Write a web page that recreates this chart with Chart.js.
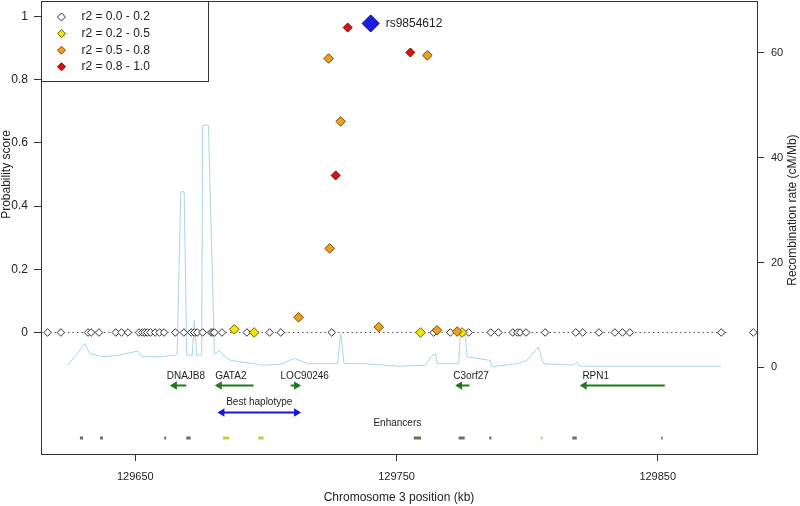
<!DOCTYPE html>
<html>
<head>
<meta charset="utf-8">
<script src="https://cdn.jsdelivr.net/npm/chart.js@4.4.0/dist/chart.umd.min.js"></script>
<style>
  html, body { margin: 0; padding: 0; background: #fff; }
</style>
</head>
<body>
<canvas id="chart" width="800" height="506"></canvas>
<script>
// ---- data (positions in kb on chromosome 3) ----
const xTicks = [129650, 129750, 129850];
const probTicks = [0, 0.2, 0.4, 0.6, 0.8, 1];
const rateTicks = [0, 20, 40, 60];

// r2 0.0 - 0.2
const lowPos = [129616.4, 129621.5, 129631.9, 129633.1, 129636.1, 129642.5, 129644.7, 129647.2,
  129651.4, 129652.7, 129653.6, 129654.6, 129655.8, 129657.6, 129659.3, 129661.0, 129665.3,
  129668.6, 129671.4, 129672.6, 129673.7, 129675.8, 129679.0, 129679.7, 129680.3, 129683.2,
  129692.7, 129701.4, 129705.7, 129725.2, 129764.2, 129770.6, 129777.6, 129786.1, 129789.0,
  129794.5, 129796.3, 129797.3, 129799.6, 129806.9, 129818.6, 129821.3, 129827.5, 129833.6,
  129836.5, 129839.3, 129874.3, 129886.6];
const lowScore = [0, 0, 0, 0, 0, 0, 0, 0, 0, 0, 0, 0,
  0, 0, 0, 0, 0, 0, 0, 0, 0, 0, 0, 0,
  0, 0, 0, 0, 0, 0, 0, 0, 0, 0, 0, 0,
  0, 0, 0, 0, 0, 0, 0, 0, 0, 0, 0, 0];
// r2 0.2 - 0.5
const midPos = [129687.9, 129695.5, 129759.2, 129775.1];
const midScore = [0.01, 0.0, 0.0, 0.0];
// r2 0.5 - 0.8
const highPos = [129712.5, 129724.0, 129724.4, 129728.6, 129743.2, 129761.8, 129765.5, 129773.2];
const highScore = [0.048, 0.867, 0.266, 0.668, 0.017, 0.877, 0.007, 0.003];
// r2 0.8 - 1.0
const topPos = [129726.7, 129731.3, 129755.3];
const topScore = [0.497, 0.965, 0.886];
// lead SNP
const leadName = 'rs9854612';
const leadPos = [129740.1];
const leadScore = [0.978];

// recombination rate (cM/Mb)
const recombPos = [129624.3, 129630.6, 129632.6, 129637.7, 129643.4, 129651.0, 129652.3, 129659.9,
  129665.0, 129666.0, 129667.4, 129668.7, 129669.7, 129671.8, 129672.6, 129673.5, 129675.4,
  129675.8, 129678.0, 129680.3, 129682.1, 129683.6, 129686.6, 129699.2, 129705.7, 129710.8,
  129715.9, 129727.4, 129728.6, 129729.9, 129737.4, 129751.5, 129761.1, 129763.6, 129765.0,
  129765.5, 129773.8, 129774.4, 129776.3, 129777.0, 129785.9, 129786.5, 129796.1, 129799.9,
  129804.3, 129806.2, 129817.7, 129819.0, 129820.2, 129874.3];
const recombRate = [0.4, 4.5, 2.6, 2.0, 2.3, 3.1, 2.1, 2.0,
  2.3, 2.5, 33.5, 33.5, 2.3, 2.3, 9.0, 2.3, 2.3,
  46.2, 46.2, 2.5, 3.2, 2.3, 1.3, 0.4, 0.6, 1.7,
  0.7, 0.7, 6.4, 0.7, 0.7, 0.2, 0.4, 2.3, 2.5,
  0.7, 0.7, 6.1, 6.1, 2.0, 1.3, 0.1, 0.7, 1.3,
  3.9, 0.7, 0.4, 1.0, 0.2, 0.2];

// genes
const geneNames = ['DNAJB8', 'GATA2', 'LOC90246', 'C3orf27', 'RPN1'];
const geneStart = [129664.0, 129681.2, 129709.5, 129773.2, 129820.9];
const geneEnd = [129669.5, 129695.3, 129712.7, 129777.9, 129852.7];
const geneStrand = ['-', '-', '+', '-', '-'];

// best haplotype
const haploStart = 129682.2;
const haploEnd = 129712.7;

// enhancers
const enhStart = [129628.8, 129636.5, 129661.1, 129669.5, 129683.5, 129697.1, 129756.6, 129773.8,
  129785.5, 129805.3, 129817.3, 129851.3];
const enhEnd = [129630.0, 129637.6, 129661.8, 129671.2, 129686.0, 129699.1, 129759.4, 129776.1,
  129786.3, 129805.9, 129819.0, 129851.9];
const enhKind = ['g', 'g', 'g', 'g', 'y', 'y', 'g', 'g', 'g', 'y', 'g', 'g'];

const legendLabels = ['r2 = 0.0 - 0.2', 'r2 = 0.2 - 0.5', 'r2 = 0.5 - 0.8', 'r2 = 0.8 - 1.0'];

// ---- styling ----
const FONT = '"Liberation Sans", Arial, sans-serif';
const TXT = '#222';
const AXIS = '#333';
const fills = ['#ffffff', '#f5e800', '#f0a020', '#e01010'];
const edges = ['#333333', '#6a6000', '#7a4a00', '#7a0000'];

const GENE_ROW = -0.165;
const HAPLO_ROW = -0.253;
const ENH_TEXT_ROW = -0.287;
const ENH_ROW = -0.334;

function pts(xs, ys) { return xs.map((v, i) => ({x: v, y: ys[i]})); }

function snpSet(label, xs, ys, k, r) {
  return {
    label: label, data: pts(xs, ys), yAxisID: 'y', showLine: false,
    pointStyle: 'rectRot', pointRadius: r, pointHoverRadius: r,
    backgroundColor: fills[k], borderColor: edges[k], pointBorderWidth: 1, order: 4 - k
  };
}

function drawArrow(ctx, x0, x1, y, head) {
  ctx.beginPath(); ctx.moveTo(x0, y); ctx.lineTo(x1, y); ctx.stroke();
  const d = Math.sign(x1 - x0);
  ctx.beginPath();
  ctx.moveTo(x1 - d * head, y - head * 0.6);
  ctx.lineTo(x1, y);
  ctx.lineTo(x1 - d * head, y + head * 0.6);
  ctx.closePath();
  ctx.fill(); ctx.stroke();
}

function diamond(ctx, x, y, r, fill, edge) {
  ctx.beginPath();
  ctx.moveTo(x, y - r); ctx.lineTo(x + r, y); ctx.lineTo(x, y + r); ctx.lineTo(x - r, y);
  ctx.closePath();
  ctx.fillStyle = fill; ctx.fill();
  ctx.strokeStyle = edge; ctx.lineWidth = 1; ctx.stroke();
}

const extras = {
  id: 'extras',
  afterDatasetsDraw(chart) {
    const {ctx, scales: {x, y, y1}} = chart;
    ctx.save();
    // enhancers
    const ey = Math.round(y.getPixelForValue(ENH_ROW));
    ctx.lineWidth = 3;
    enhStart.forEach((s, i) => {
      ctx.strokeStyle = enhKind[i] === 'y' ? '#c8cc3a' : '#6f6f58';
      ctx.beginPath();
      ctx.moveTo(x.getPixelForValue(s), ey);
      ctx.lineTo(Math.max(x.getPixelForValue(enhEnd[i]), x.getPixelForValue(s) + 1.5), ey);
      ctx.stroke();
    });
    ctx.fillStyle = TXT;
    ctx.font = '10px ' + FONT;
    ctx.textAlign = 'center';
    ctx.textBaseline = 'middle';
    ctx.fillText('Enhancers', x.getPixelForValue(129750.3), y.getPixelForValue(ENH_TEXT_ROW));

    // genes
    const gy = Math.round(y.getPixelForValue(GENE_ROW)) + 0.5;
    ctx.strokeStyle = '#1f7a1f'; ctx.fillStyle = '#1f7a1f'; ctx.lineWidth = 2;
    geneNames.forEach((g, i) => {
      const a = x.getPixelForValue(geneStart[i]);
      const b = x.getPixelForValue(geneEnd[i]);
      if (geneStrand[i] === '-') drawArrow(ctx, b, a, gy, 4);
      else drawArrow(ctx, a, b, gy, 4);
    });
    ctx.fillStyle = TXT;
    geneNames.forEach((g, i) => {
      ctx.fillText(g, x.getPixelForValue(geneStart[i]) + 14, gy - 9);
    });

    // best haplotype
    const hy = Math.round(y.getPixelForValue(HAPLO_ROW)) + 0.5;
    const h0 = x.getPixelForValue(haploStart), h1 = x.getPixelForValue(haploEnd);
    ctx.strokeStyle = '#1414e0'; ctx.fillStyle = '#1414e0'; ctx.lineWidth = 2;
    drawArrow(ctx, (h0 + h1) / 2, h1, hy, 4);
    drawArrow(ctx, (h0 + h1) / 2, h0, hy, 4);
    ctx.fillStyle = TXT;
    ctx.fillText('Best haplotype', (h0 + h1) / 2, hy - 10);

    // lead SNP label
    ctx.font = '12px ' + FONT;
    ctx.textAlign = 'left';
    ctx.fillText(leadName, x.getPixelForValue(leadPos[0]) + 15, y.getPixelForValue(leadScore[0]));
    ctx.restore();
  },
  afterDraw(chart) {
    const {ctx, chartArea: a, scales: {y, y1}} = chart;
    ctx.save();
    // box
    ctx.strokeStyle = AXIS; ctx.lineWidth = 1;
    ctx.strokeRect(Math.round(a.left) + 0.5, Math.round(a.top) + 0.5,
      Math.round(a.right - a.left), Math.round(a.bottom - a.top));
    // legend
    const lx = Math.round(a.left) + 0.5, ly = Math.round(a.top) + 0.5;
    ctx.fillStyle = '#fff';
    ctx.fillRect(lx, ly, 167, 80);
    ctx.strokeRect(lx, ly, 167, 80);
    ctx.font = '12px ' + FONT;
    ctx.textAlign = 'left'; ctx.textBaseline = 'middle';
    legendLabels.forEach((t, i) => {
      const ry = ly + 15.5 + i * 16.6;
      diamond(ctx, lx + 20, ry, 4, fills[i], edges[i]);
      ctx.fillStyle = TXT;
      ctx.fillText(t, lx + 40, ry);
    });
    // axis titles
    ctx.font = '12px ' + FONT;
    ctx.textAlign = 'center';
    ctx.save();
    ctx.translate(7, y.getPixelForValue(0.5));
    ctx.rotate(-Math.PI / 2);
    ctx.fillText('Probability score', 0, 0);
    ctx.restore();
    ctx.save();
    ctx.translate(793, y1.getPixelForValue(30));
    ctx.rotate(-Math.PI / 2);
    ctx.fillText('Recombination rate (cM/Mb)', 0, 0);
    ctx.restore();
    ctx.restore();
  }
};

const tickGrid = {display: true, drawOnChartArea: false, drawTicks: true, tickLength: 7, color: AXIS, lineWidth: 1};

function noPad(s) {
  s.paddingTop = 0; s.paddingBottom = 0; s.paddingLeft = 0; s.paddingRight = 0;
}

const ctx = document.getElementById('chart').getContext('2d');
const chart = new Chart(ctx, {
  type: 'scatter',
  data: {
    datasets: [
      {
        label: 'lead', data: pts(leadPos, leadScore), yAxisID: 'y', showLine: false,
        pointStyle: 'rectRot', pointRadius: 8.5, pointHoverRadius: 8.5,
        backgroundColor: '#1c1ce6', borderColor: '#000070', pointBorderWidth: 1, order: 0
      },
      snpSet('r2 0.8-1.0', topPos, topScore, 3, 4.5),
      snpSet('r2 0.5-0.8', highPos, highScore, 2, 4.8),
      snpSet('r2 0.2-0.5', midPos, midScore, 1, 4.8),
      snpSet('r2 0.0-0.2', lowPos, lowScore, 0, 3.8),
      {
        label: 'zero', type: 'line', data: [{x: 129613.9, y: 0}, {x: 129876.7, y: 0}], yAxisID: 'y',
        borderColor: '#555', borderWidth: 1, borderDash: [1.5, 3], pointRadius: 0, order: 8
      },
      {
        label: 'recomb', type: 'line', data: pts(recombPos, recombRate), yAxisID: 'y1',
        borderColor: '#a9d6e5', borderWidth: 1, pointRadius: 0, tension: 0, order: 9
      }
    ]
  },
  options: {
    responsive: false,
    animation: false,
    devicePixelRatio: 1,
    layout: {autoPadding: false, padding: {top: 1, left: 0, right: 0, bottom: 0}},
    plugins: {legend: {display: false}, tooltip: {enabled: false}},
    scales: {
      x: {
        type: 'linear', position: 'bottom', min: 129613.9, max: 129888,
        afterBuildTicks: s => { s.ticks = xTicks.map(v => ({value: v})); },
        afterFit: s => { s.height = 52; noPad(s); },
        grid: tickGrid,
        border: {display: true, color: AXIS},
        ticks: {font: {size: 11, family: FONT}, color: TXT, padding: 9, maxRotation: 0, autoSkip: false,
          callback: v => String(v)},
        title: {display: true, text: 'Chromosome 3 position (kb)', font: {size: 12, family: FONT}, color: TXT,
          padding: {top: 0, bottom: 1}}
      },
      y: {
        position: 'left', min: -0.3845, max: 1.049,
        afterBuildTicks: s => { s.ticks = probTicks.map(v => ({value: v})); },
        afterFit: s => { s.width = 41; noPad(s); },
        grid: tickGrid,
        border: {display: true, color: AXIS},
        ticks: {font: {size: 12, family: FONT}, color: TXT, padding: 6,
          callback: v => (v === 0 || v === 1) ? String(v) : v.toFixed(1)}
      },
      y1: {
        position: 'right', min: -16.55, max: 69.9,
        afterBuildTicks: s => { s.ticks = rateTicks.map(v => ({value: v})); },
        afterFit: s => { s.width = 43; noPad(s); },
        grid: tickGrid,
        border: {display: true, color: AXIS},
        ticks: {font: {size: 11, family: FONT}, color: TXT, padding: 7, callback: v => String(v)}
      }
    }
  },
  plugins: [extras]
});
</script>
</body>
</html>
